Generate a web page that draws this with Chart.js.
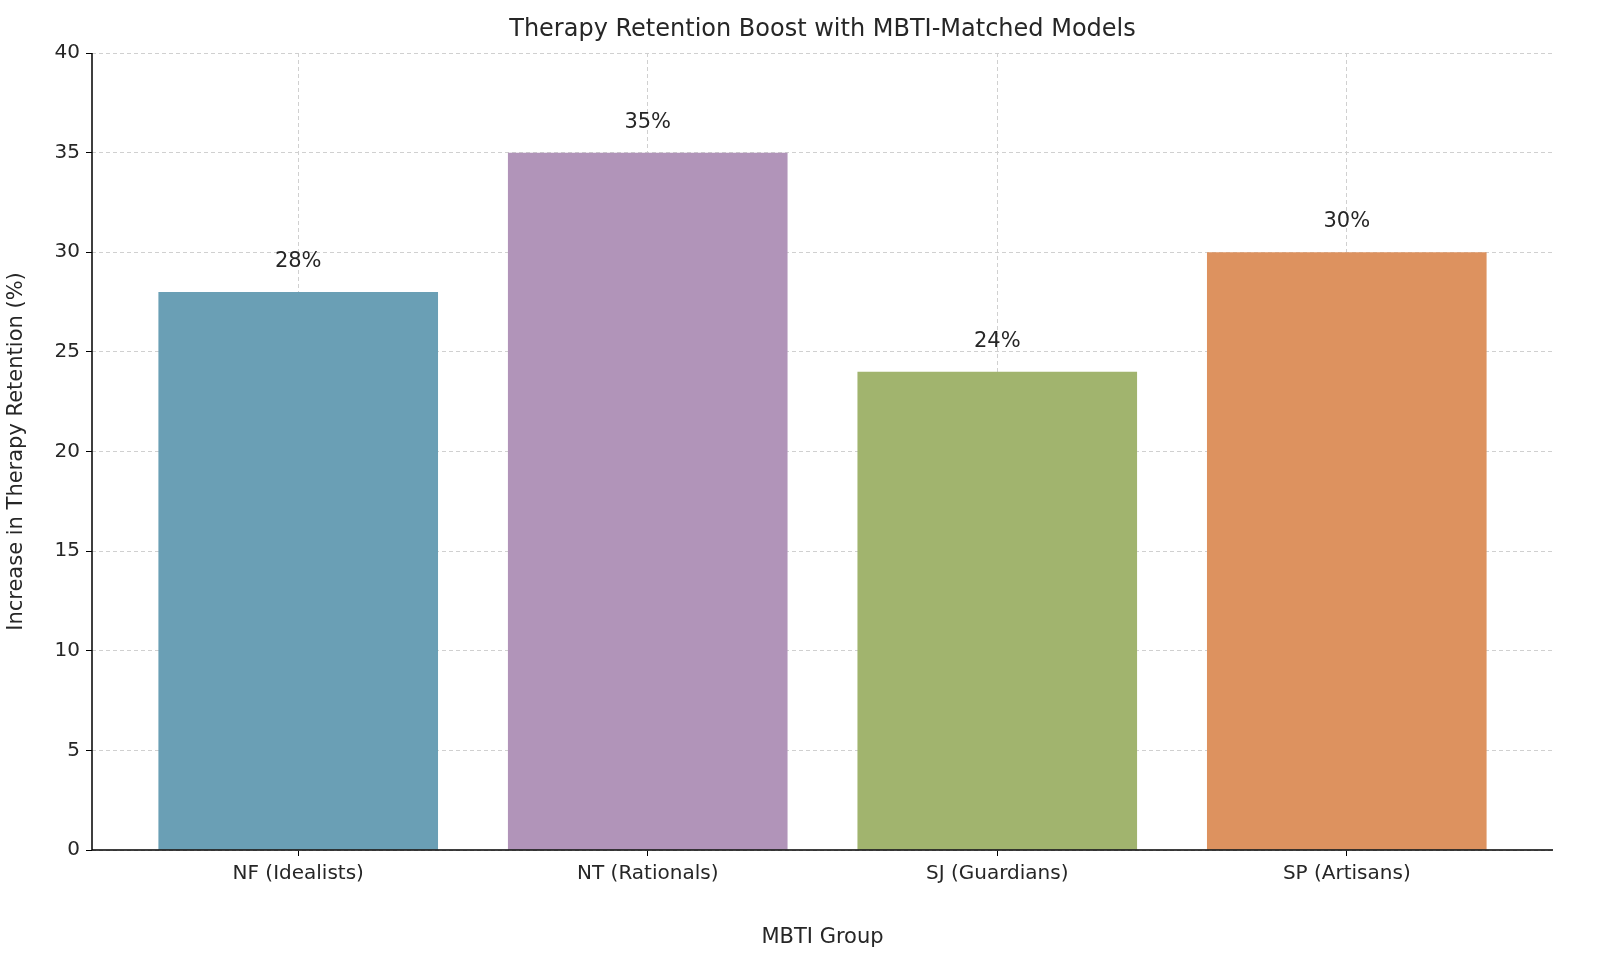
<!DOCTYPE html>
<html><head><meta charset="utf-8">
<script src="https://cdn.jsdelivr.net/npm/chart.js@4"></script>
<style>html,body{margin:0;padding:0;background:#fff;overflow:hidden}#w{width:1600px;height:954px}canvas{display:block;width:1600px!important;height:954px!important}</style>
</head><body><div id="w"><canvas id="c" width="1600" height="954"></canvas></div>
<script>
const categories = ["NF (Idealists)", "NT (Rationals)", "SJ (Guardians)", "SP (Artisans)"];
const values = [28, 35, 24, 30];
const colors = ["#6a9fb5", "#b194b9", "#a1b46e", "#dd925f"];
const yTicks = [0,5,10,15,20,25,30,35,40];
const F = "DejaVu Sans";

const overlay = {
  id: 'overlay',
  afterDatasetsDraw(chart) {
    const {ctx, scales:{x,y}, chartArea} = chart;
    ctx.save();
    ctx.fillStyle = '#262626';
    ctx.font = `21px '${F}'`;
    ctx.textAlign = 'center'; ctx.textBaseline = 'bottom';
    values.forEach((v,i)=>ctx.fillText(v+'%', x.getPixelForValue(i), y.getPixelForValue(v+1)));
    ctx.font = `24px '${F}'`;
    ctx.textBaseline = 'middle';
    ctx.fillText('Therapy Retention Boost with MBTI-Matched Models', (chartArea.left+chartArea.right)/2, 30);
    ctx.strokeStyle = '#000'; ctx.lineWidth = 1.5;
    ctx.beginPath();
    ctx.moveTo(chartArea.left, chartArea.top); ctx.lineTo(chartArea.left, chartArea.bottom); ctx.lineTo(chartArea.right, chartArea.bottom);
    ctx.stroke();
    ctx.restore();
  }
};

new Chart(document.getElementById('c'), {
  type: 'bar',
  data: { datasets: [{ data: values.map((v,i)=>({x:i,y:v})), backgroundColor: colors, borderWidth: 0, barPercentage: 0.8, categoryPercentage: 1 }] },
  options: {
    responsive: false, animation: false, devicePixelRatio: 1,
    layout: { padding: { top: 53, right: 47, left: 0, bottom: 0 } },
    plugins: { legend: {display:false}, tooltip: {enabled:false} },
    scales: {
      x: { type: 'linear', min: -0.59, max: 3.59, offset: false,
        afterBuildTicks: s => { s.ticks = categories.map((c,i)=>({value:i})); },
        afterFit: s => { s.height = 104; },
        ticks: { callback: (v)=>categories[v], color:'#262626', font:{family:F,size:20}, maxRotation:0, autoSkip:false, padding:6 },
        grid: { offset:false, color:'#d0d0d0', tickLength:6, tickColor:'#000' },
        border: { display:false, dash:[4,3] },
        title: { display:true, text:'MBTI Group', color:'#262626', font:{family:F,size:21}, padding:{top:2} }
      },
      y: { min: 0, max: 40,
        afterBuildTicks: s => { s.ticks = yTicks.map(v=>({value:v})); },
        afterFit: s => { s.width = 92; },
        ticks: { color:'#262626', font:{family:F,size:20}, padding:6 },
        grid: { color:'#d0d0d0', tickLength:6, tickColor:'#000' },
        border: { display:false, dash:[4,3] },
        title: { display:true, text:'Increase in Therapy Retention (%)', color:'#262626', font:{family:F,size:21}, padding:{bottom:2} }
      }
    }
  },
  plugins: [overlay]
});
</script></body></html>
